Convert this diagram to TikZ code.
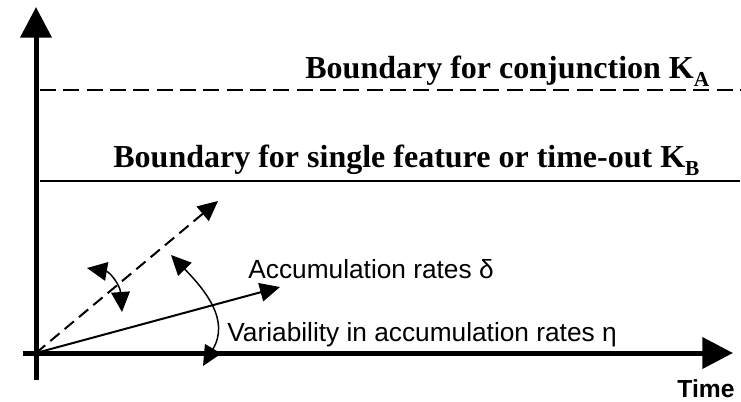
\documentclass[tikz,border=0pt]{standalone}
\usepackage{fontspec}
\setmainfont{Liberation Serif}
\setsansfont{Liberation Sans}
\usepackage{tikz}
\usetikzlibrary{arrows,arrows.meta,positioning}

\begin{document}
\begin{tikzpicture}[x=0.75pt,y=-0.75pt,semithick]
\tikzstyle{axis} = [line width=3.75pt,-{Triangle[length=23pt,width=23pt]}]
\tikzstyle{vec} = [line width=1.5pt,-{Triangle[length=15pt,width=14pt]}]
\tikzstyle{turn} = [line width=1.1pt,{Triangle[length=15pt,width=14pt]}-{Triangle[length=15pt,width=14pt]}]
\tikzstyle{bound} = [line width=1.6pt]
\tikzstyle{boldtext} = [inner sep=0pt,font=\fontsize{24}{28}\selectfont\bfseries]
\tikzstyle{plaintext} = [inner sep=0pt,font=\sffamily\fontsize{19.7}{23}\selectfont]
    \useasboundingbox (0,0) rectangle (741,402);
    \coordinate (O) at (36,353);
    \coordinate (ybot) at (36,380);
    \coordinate (ytop) at (36,7);
    \coordinate (xleft) at (23,353);
    \coordinate (xtip) at (733,353);
    \coordinate (kaL) at (40,90);
    \coordinate (kaR) at (741,90);
    \coordinate (kbL) at (40,181);
    \coordinate (kbR) at (740,181);
    \coordinate (dtip) at (218,201);
    \coordinate (stip) at (280,287);
    \coordinate (vtop) at (171,255);
    \coordinate (vbot) at (203,366);
    \coordinate (wtop) at (87,268);
    \coordinate (wbot) at (122,312);

    \node[boldtext,anchor=base west] (labelA) at (305,79) {Boundary for conjunction K\raisebox{-0.22em}{\fontsize{16}{16}\selectfont A}};
    \node[boldtext,anchor=base west] (labelB) at (113,168) {Boundary for single feature or time-out K\raisebox{-0.22em}{\fontsize{16}{16}\selectfont B}};
    \node[plaintext,anchor=base west] (accum) at (248,278) {Accumulation rates δ};
    \node[plaintext,anchor=base west] (vari) at (227,341) {Variability in accumulation rates η};
    \node[inner sep=0pt,anchor=base east,font=\sffamily\bfseries\fontsize{18.5}{21}\selectfont] (time) at (735,397) {Time};

    \draw[bound,dash pattern=on 12pt off 5.5pt] (kaL) -- (kaR);
    \draw[bound] (kbL) -- (kbR);
    \draw[axis] (ybot) -- (ytop);
    \draw[axis] (xleft) -- (xtip);
    \draw[vec,dash pattern=on 9pt off 5pt] (O) -- (dtip);
    \draw[vec] (O) -- (stip);
    \draw[turn] (vtop) .. controls (205,290) and (230,320) .. (vbot);
    \draw[turn] (wtop) .. controls (110,272) and (120,285) .. (wbot);
\end{tikzpicture}
\end{document}
